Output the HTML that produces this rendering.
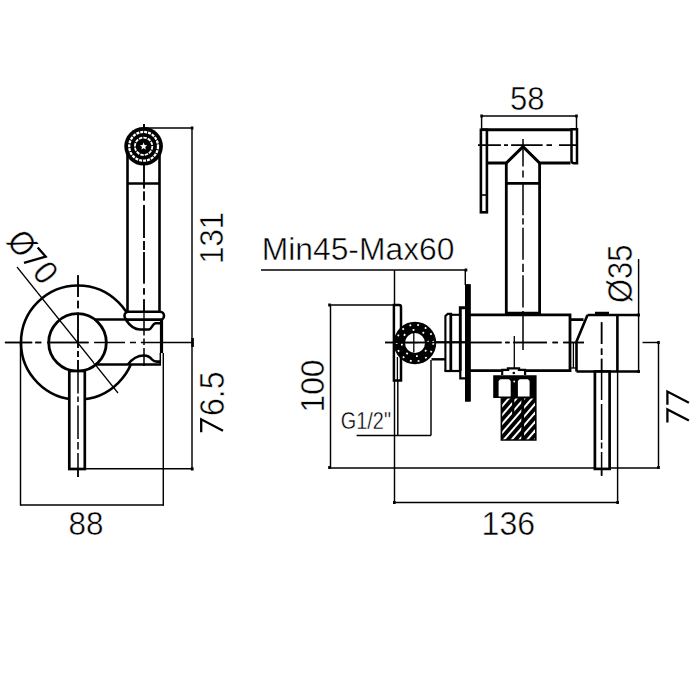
<!DOCTYPE html>
<html><head><meta charset="utf-8">
<style>
html,body{margin:0;padding:0;background:#fff;}
svg{display:block;}
text{font-family:"Liberation Sans",sans-serif;fill:#000;stroke:#fff;stroke-width:0.45px;}
</style></head>
<body>
<svg width="700" height="700" viewBox="0 0 700 700">
<rect width="700" height="700" fill="#fff"/>
<g fill="none" stroke="#000" stroke-linecap="butt">

<!-- ============ LEFT VIEW ============ -->
<!-- centerlines -->
<path d="M4.9 342.5H32.2 M35.2 342.5H41.3 M47.4 342.5H88.6 M94.1 342.5H125 M130 342.5H136 M140.9 342.5H161 M78 275.2V297 M78 300.7V308.2 M78 312.7V348 M78 351V357 M78 360V393.6 M78 396.5V402 M78 405.4V439 M78 442V449.4 M78 453V477 M144 124V188.5 M144 191.5V200.5 M144 205V238 M144 241V250 M144 252V283.6 M144 288.3V294.6 M144 299.3V335.5 M144 338.6V345 M144 348V366" stroke-width="1.5"/>
<!-- big circle -->
<circle cx="78" cy="342.5" r="57" stroke-width="2.6"/>
<!-- leader -->
<line x1="17" y1="267" x2="118" y2="393" stroke-width="1.2"/>
<!-- body (white-filled to hide circle) -->
<path d="M94 319.5 H161 V364.5 H94 Z" fill="#fff" stroke="none"/>
<line x1="94" y1="319.5" x2="161" y2="319.5" stroke-width="2.6"/>
<line x1="94" y1="364.5" x2="161" y2="364.5" stroke-width="2.6"/>
<line x1="161.5" y1="319" x2="161.5" y2="353" stroke-width="3.2"/>
<line x1="160.3" y1="353" x2="160.3" y2="365" stroke-width="1.5"/>
<!-- saddle curves -->
<path d="M126 320 C130 326 134 329.5 140 329.5 H149 C151.5 329.5 152.5 323.5 155.5 323.3 H160.5" stroke-width="2.6"/>
<path d="M128 364.5 C132 359 137 355.5 144 355.5 C148 355.5 150 357 152 359.5 C153.5 361.2 155 361.6 157 361.6 H160.5" stroke-width="2.6"/>
<!-- re-draw centerlines over body -->
<path d="M4.9 342.5H32.2 M35.2 342.5H41.3 M47.4 342.5H88.6 M94.1 342.5H125 M130 342.5H136 M140.9 342.5H161 M144 124V188.5 M144 191.5V200.5 M144 205V238 M144 241V250 M144 252V283.6 M144 288.3V294.6 M144 299.3V335.5 M144 338.6V345 M144 348V366" stroke-width="1.5"/>
<line x1="161" y1="342.5" x2="192" y2="342.5" stroke-width="1.5"/>
<!-- inner circle -->
<circle cx="77.5" cy="342.5" r="28.8" stroke-width="2.8" fill="none"/>
<!-- collar -->
<rect x="124.5" y="311.8" width="39.5" height="7.8" rx="3.9" stroke-width="2.6" fill="#fff"/>
<line x1="144" y1="311" x2="144" y2="320" stroke-width="1.3"/>
<!-- tube -->
<line x1="127.5" y1="150" x2="127.5" y2="312" stroke-width="2.6"/>
<line x1="159.5" y1="150" x2="159.5" y2="312" stroke-width="2.6"/>
<line x1="127.5" y1="183.5" x2="159.5" y2="183.5" stroke-width="2.6"/>
<!-- head -->
<circle cx="143.6" cy="146.3" r="19.3" fill="#000" stroke="none"/>
<circle cx="143.6" cy="146.3" r="14.4" stroke="#fff" stroke-width="2.3" stroke-dasharray="3 1"/>
<circle cx="143.6" cy="146.3" r="8.7" stroke="#fff" stroke-width="1.8" stroke-dasharray="3.4 1.1"/>
<path d="M143.6 142.6 L144.6 145 L147.2 145.3 L145.2 147 L145.9 149.6 L143.6 148.2 L141.3 149.6 L142 147 L140 145.3 L142.6 145 Z" fill="#fff" stroke="none"/>
<line x1="144" y1="124" x2="144" y2="128" stroke-width="1.3"/>
<!-- lever -->
<rect x="69.3" y="371" width="15.5" height="98" stroke-width="2.7" fill="#fff"/>
<path d="M78 275.2V297 M78 300.7V308.2 M78 312.7V348 M78 351V357 M78 360V393.6 M78 396.5V402 M78 405.4V439 M78 442V449.4 M78 453V477" stroke-width="1.5"/>

<!-- dimensions left -->
<g stroke-width="1.45">
  <line x1="144" y1="128" x2="193" y2="128"/>
  <line x1="192" y1="128" x2="192" y2="470"/>
  <line x1="85" y1="468.8" x2="193" y2="468.8"/>
  <line x1="20.5" y1="342.5" x2="20.5" y2="505.5"/>
  <line x1="163.3" y1="353" x2="163.3" y2="505.5"/>
  <line x1="20" y1="505" x2="164" y2="505"/>
</g>
<g fill="#000" stroke="none">
  <rect x="190.8" y="126.5" width="2.6" height="3"/>
  <rect x="191.3" y="338" width="2.6" height="9"/>
  <rect x="190.8" y="467.3" width="2.8" height="3.2"/>
</g>

<!-- ============ RIGHT VIEW ============ -->
<g stroke-width="1.45">
  <line x1="261" y1="270" x2="466.5" y2="270"/>
  <line x1="394.5" y1="270" x2="394.5" y2="502.5"/>
  <line x1="465.3" y1="269.7" x2="465.3" y2="285"/>
  <line x1="330.5" y1="305" x2="330.5" y2="468"/>
  <line x1="330" y1="305" x2="394" y2="305"/>
  <line x1="330" y1="468" x2="659" y2="468"/>
  <line x1="397.8" y1="380" x2="397.8" y2="435.5"/>
  <line x1="356.6" y1="435.5" x2="431" y2="435.5"/>
  <line x1="431" y1="360" x2="431" y2="435.5"/>
  <line x1="394.3" y1="502.5" x2="618" y2="502.5"/>
  <line x1="617.6" y1="371" x2="617.6" y2="502.5"/>
  <line x1="658.5" y1="342.5" x2="658.5" y2="468"/>
  <line x1="642.5" y1="342.5" x2="659" y2="342.5"/>
  <line x1="638.6" y1="259" x2="638.6" y2="371.5"/>
  <line x1="481.6" y1="116" x2="576.5" y2="116"/>
  <line x1="481.6" y1="116" x2="481.6" y2="130"/>
  <line x1="576.5" y1="116" x2="576.5" y2="130"/>
</g>
<g fill="#000" stroke="none">
  <rect x="464.7" y="268.5" width="2.6" height="3"/>
  <rect x="328.2" y="303.5" width="2.6" height="3"/>
  <rect x="328.2" y="466" width="2.6" height="3"/>
  <rect x="393" y="501" width="2.6" height="3"/>
  <rect x="616.3" y="501" width="2.6" height="3"/>
  <rect x="657.2" y="466" width="2.6" height="3"/>
  <rect x="657.2" y="341" width="2.6" height="3"/>
  <rect x="637.3" y="313.5" width="2.6" height="3"/>
  <rect x="637.3" y="370" width="2.6" height="3"/>
  <rect x="480.3" y="114.5" width="2.6" height="3"/>
  <rect x="575.2" y="114.5" width="2.6" height="3"/>
</g>

<!-- centerlines right -->
<path d="M385 342.5H470 M470 342.5H501.6 M505.2 342.5H509.6 M513.2 342.5H547 M552.5 342.5H557.9 M563.2 342.5H584 M523 138.9V166.4 M523 170.4V177.5 M523 182.2V215.2 M523 218.3V224.6 M523 227.8V259.7 M523 263.8V272 M523 275.3V307.4 M523 311V350 M601.6 322.3V344.1 M601.6 348.4V355.1 M601.6 358.7V399.9 M601.6 404V440 M601.6 442.4V448.4 M601.6 452V475.8" stroke-width="1.5"/>
<line x1="514.3" y1="336" x2="514.3" y2="371" stroke-width="1.3"/>

<!-- wall -->
<line x1="467.8" y1="284.3" x2="467.8" y2="401.5" stroke-width="5.6"/>
<!-- plate -->
<path d="M393.9 380.5 V305 H399 Q401 305 401 307 V380.5 Z" stroke-width="2.5" fill="#fff"/>
<line x1="397.4" y1="357" x2="397.4" y2="380" stroke-width="1.3"/>
<!-- ring -->
<circle cx="415" cy="343" r="15.6" stroke-width="11.2" stroke="#000"/>
<circle cx="415" cy="343" r="18.3" stroke-width="1.8" stroke="#fff" stroke-dasharray="1.8 6.2"/>
<circle cx="415" cy="343" r="13.2" stroke-width="1.8" stroke="#fff" stroke-dasharray="1.8 8.6" stroke-dashoffset="3"/>
<line x1="404.5" y1="342.6" x2="418" y2="342.6" stroke-width="1.2"/>
<line x1="413.8" y1="332" x2="413.8" y2="352.5" stroke-width="1.3"/>
<line x1="431.5" y1="359.3" x2="445.5" y2="359.3" stroke-width="2.4"/>
<line x1="436" y1="342" x2="465" y2="342" stroke-width="1.6"/>
<!-- escutcheon -->
<path d="M445.4 371 V316 L447.8 313.9 H452" stroke-width="2.1" fill="none"/>
<line x1="450.8" y1="313" x2="450.8" y2="371" stroke-width="2.8"/>
<line x1="444.4" y1="371" x2="460" y2="371" stroke-width="2.2"/>
<line x1="452" y1="314.8" x2="460" y2="314.8" stroke-width="2.1"/>
<path d="M460.3 371 V307.8 H466" stroke-width="2.9" fill="none"/>
<path d="M460.3 371 V378.3 H466" stroke-width="2.2" fill="none"/>
<line x1="467.8" y1="284.3" x2="467.8" y2="401.5" stroke-width="5.6"/>

<!-- body -->
<path d="M470 314.8 H570 V370.6 H470" stroke-width="2.8"/>
<path d="M385 342.5H470 M470 342.5H501.6 M505.2 342.5H509.6 M513.2 342.5H547 M552.5 342.5H557.9 M563.2 342.5H584" stroke-width="1.5"/>
<!-- neck -->
<line x1="506.3" y1="162" x2="506.3" y2="314" stroke-width="2.8"/>
<line x1="539.6" y1="162" x2="539.6" y2="314" stroke-width="2.8"/>
<line x1="506.3" y1="183.4" x2="539.6" y2="183.4" stroke-width="2.8"/>
<line x1="506.3" y1="313.5" x2="539.6" y2="313.5" stroke-width="3.5"/>
<!-- head -->
<line x1="481" y1="129.8" x2="577" y2="129.8" stroke-width="3"/>
<rect x="480.9" y="129.8" width="6" height="82.5" stroke-width="2.6" fill="#fff"/>
<line x1="480.9" y1="195" x2="486.9" y2="195" stroke-width="1.6"/>
<path d="M571.5 129.3 H577 V163.3 H574.3 Q571.5 163.3 571.5 160.5 Z" stroke-width="2.5" fill="#fff"/>
<path d="M487.2 163 H506.3 L523 146.6 L539.6 163 H570.5" stroke-width="3"/>
<path d="M478 145.1H500.9 M504 145.1H508 M511.1 145.1H542.6 M546.5 145.1H552 M559 145.1H578" stroke-width="1.7"/>

<!-- connector piece -->
<path d="M570 319.6 H583.5 M587.5 315 L576.5 341.6 V371.5" stroke-width="2.6"/>
<line x1="573.4" y1="342" x2="573.4" y2="368" stroke-width="1.3"/>
<line x1="570" y1="368" x2="576.5" y2="368" stroke-width="1.3"/>
<!-- valve -->
<path d="M587.5 315 H639.4 M617.4 315 V371.5 M576.5 371.5 H639.4" stroke-width="2.6"/>
<line x1="595" y1="313.5" x2="609" y2="313.5" stroke-width="3.5"/>
<!-- lever right -->
<rect x="594.9" y="371.5" width="14.7" height="97.4" stroke-width="2.7" fill="#fff"/>
<path d="M601.6 322.3V344.1 M601.6 348.4V355.1 M601.6 358.7V399.9 M601.6 404V440 M601.6 442.4V448.4 M601.6 452V475.8" stroke-width="1.5"/>

<!-- nut + hatched pipe -->
<defs><clipPath id="pc"><rect x="502.2" y="398.5" width="32.8" height="40.8"/></clipPath></defs>
<path d="M493.2 375.3 H536.6 V440.7 H500.6 V398 H493.2 Z" fill="#000" stroke="none"/>
<path d="M502.3 375 V370 H508 V368.4 H519 V370 H525 V375" stroke-width="2.4" fill="#fff"/>
<rect x="503.5" y="371.2" width="20.3" height="3.8" fill="#fff" stroke="none"/>
<circle cx="513.8" cy="373" r="1.3" fill="#000" stroke="none"/>
<path d="M498.6 396.4 V381 L500.3 379.3 H509 L510.7 381 V396.4 Z" fill="#fff" stroke="none"/>
<path d="M517.9 396.4 V381 L519.6 379.3 H527.9 L529.6 381 V396.4 Z" fill="#fff" stroke="none"/>
<circle cx="514.2" cy="381.5" r="0.9" fill="#fff" stroke="none"/>
<g stroke="#fff" stroke-width="2" clip-path="url(#pc)">
  <line x1="500" y1="390.8" x2="537" y2="348.2"/>
  <line x1="500" y1="399.7" x2="537" y2="357.1"/>
  <line x1="500" y1="408.6" x2="537" y2="366.0"/>
  <line x1="500" y1="417.5" x2="537" y2="374.9"/>
  <line x1="500" y1="426.4" x2="537" y2="383.8"/>
  <line x1="500" y1="435.3" x2="537" y2="392.7"/>
  <line x1="500" y1="444.2" x2="537" y2="401.6"/>
  <line x1="500" y1="453.1" x2="537" y2="410.5"/>
  <line x1="500" y1="462.0" x2="537" y2="419.4"/>
  <line x1="500" y1="470.9" x2="537" y2="428.3"/>
  <line x1="500" y1="479.8" x2="537" y2="437.2"/>
</g>
<line x1="513.2" y1="398" x2="513.2" y2="416" stroke-width="2.2"/>
<line x1="522.7" y1="398" x2="522.7" y2="440" stroke-width="2.8"/>
</g>

<!-- ============ TEXT ============ -->
<text transform="translate(261.68 259.60) scale(1.0609 1.0364)" font-size="30">Min45-Max60</text>
<text transform="translate(509.97 110.00) scale(1.0323 1.1000)" font-size="30">58</text>
<text transform="translate(481.56 534.60) scale(1.0702 1.1150)" font-size="30">136</text>
<text transform="translate(68.45 535.20) scale(1.0484 1.1100)" font-size="30">88</text>
<text transform="translate(340.84 429.00) scale(0.6622 0.8182)" font-size="30">G1/2&quot;</text>
<text transform="translate(223.28 263.77) rotate(-90) scale(1.0340 1.1120)" font-size="30">131</text>
<text transform="translate(223.60 433.97) rotate(-90) scale(1.0714 1.1800)" font-size="30"><tspan style="fill:none;stroke:none">7</tspan>6.5</text>
<path d="M201.2 432.2 V419.3 L223 430.8" fill="none" stroke="#000" stroke-width="2.3"/>
<text transform="translate(324.27 412.41) rotate(-90) scale(1.0574 1.0900)" font-size="30">100</text>
<text transform="translate(632.16 302.93) rotate(-90) scale(1.0291 1.1435)" font-size="30">Ø35</text>
<path d="M667.4 404.7 V391.6 L688.9 402.8 M667.4 422.5 V409.5 L688.9 420.6" fill="none" stroke="#000" stroke-width="2.3" stroke-linejoin="miter"/>
<text transform="translate(5.5 241.5) rotate(51)" font-size="34" textLength="58" lengthAdjust="spacingAndGlyphs">Ø<tspan style="fill:none;stroke:none">7</tspan>0</text>
<path d="M37.7 247.4 L45.7 256.6 L24 262.9" fill="none" stroke="#000" stroke-width="2.3"/>
</svg>
</body></html>
